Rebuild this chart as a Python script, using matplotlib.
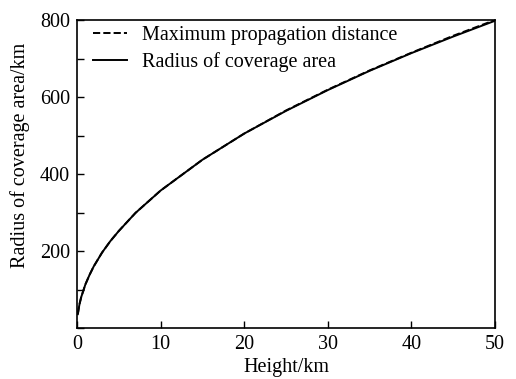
import matplotlib.pyplot as plt
from matplotlib.ticker import MultipleLocator

plt.rcParams['font.family'] = ['Liberation Serif', 'DejaVu Serif']

# values
height = [0.1, 0.2, 0.3, 0.5, 1, 1.5, 2, 3, 4, 5, 7, 10, 15, 20, 25, 30, 35, 40, 45, 50]
radius = [36, 50, 62, 80, 113, 138, 160, 196, 226, 252, 299, 357, 437, 505, 564, 618, 668, 714, 757, 798]
max_dist = [36, 50, 62, 80, 113, 138, 160, 196, 226, 252, 299, 357, 437, 505, 565, 619, 669, 715, 759, 800]

fig = plt.figure(figsize=(5.16, 3.79), dpi=100)
ax = fig.add_axes([77 / 516, 1 - 328 / 379, 418 / 516, 308 / 379])

ax.plot(height, max_dist, 'k--', lw=1.4, label='Maximum propagation distance')
ax.plot(height, radius, 'k-', lw=1.4, label='Radius of coverage area')

ax.set_xlim(0, 50)
ax.set_ylim(0, 800)
ax.set_xticks([0, 10, 20, 30, 40, 50])
ax.set_yticks([200, 400, 600, 800])
ax.yaxis.set_minor_locator(MultipleLocator(100))
ax.tick_params(direction='in', labelsize=14.5, length=5, width=1, pad=5)
ax.tick_params(which='minor', direction='in', length=5, width=1)
for s in ax.spines.values():
    s.set_linewidth(1.2)

ax.set_xlabel('Height/km', fontsize=14.5, labelpad=3)
ax.set_ylabel('Radius of coverage area/km', fontsize=14.5)
ax.yaxis.set_label_coords(-0.112, 0.562)

ax.legend(loc='upper left', frameon=False, fontsize=14.5, handlelength=1.7,
          bbox_to_anchor=(0.01, 1.019), borderaxespad=0.2, labelspacing=0.35,
          handletextpad=0.7)

fig.savefig('out.png', dpi=100)
